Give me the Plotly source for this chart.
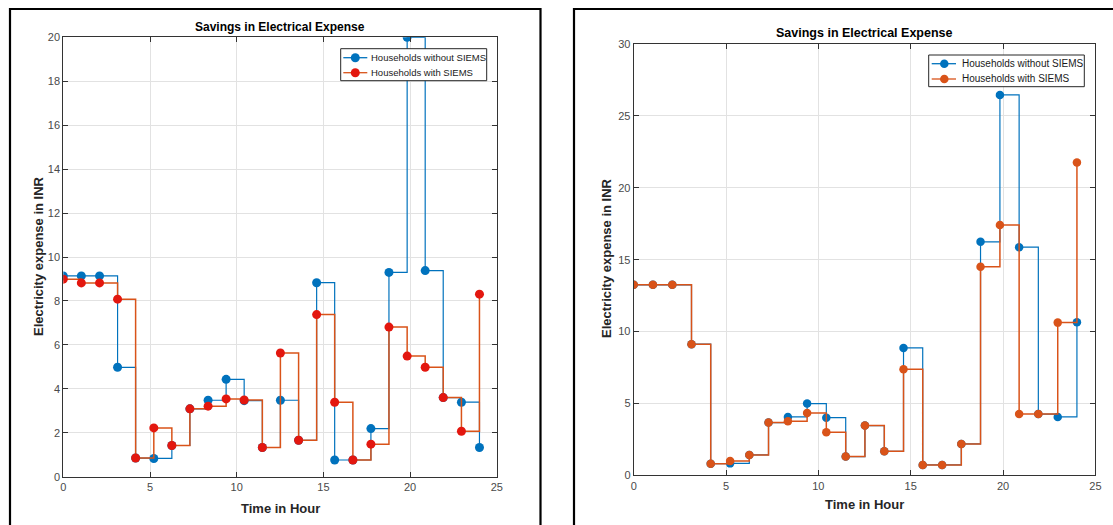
import plotly.graph_objects as go

# Hour of day for each of the 24 billing slots
hours = [0.00, 1.04, 2.09, 3.13, 4.17, 5.22, 6.26, 7.30, 8.35, 9.39, 10.43, 11.48,
         12.52, 13.57, 14.61, 15.65, 16.70, 17.74, 18.78, 19.83, 20.87, 21.91, 22.96, 24.00]

# Case A: expense (INR) per slot
a_without = [9.14, 9.14, 9.14, 4.98, 0.85, 0.83, 1.42, 3.09, 3.48, 4.43, 3.46, 1.33,
             3.48, 1.66, 8.83, 0.76, 0.76, 2.19, 9.30, 20.00, 9.38, 3.60, 3.39, 1.33]
a_with = [8.99, 8.82, 8.82, 8.08, 0.85, 2.22, 1.42, 3.09, 3.21, 3.54, 3.49, 1.33,
          5.63, 1.66, 7.38, 3.39, 0.76, 1.48, 6.81, 5.49, 4.98, 3.60, 2.07, 8.31]

# Case B: expense (INR) per slot
b_without = [13.25, 13.25, 13.25, 9.12, 0.81, 0.83, 1.42, 3.67, 4.06, 4.99, 4.01, 1.30,
             3.46, 1.67, 8.86, 0.72, 0.72, 2.18, 16.24, 26.46, 15.87, 4.26, 4.06, 10.64]
b_with = [13.25, 13.25, 13.25, 9.12, 0.81, 1.00, 1.42, 3.67, 3.76, 4.34, 2.99, 1.30,
          3.46, 1.67, 7.38, 0.72, 0.72, 2.18, 14.50, 17.41, 4.26, 4.26, 10.62, 21.76]

TITLE = "Savings in Electrical Expense"
XLABEL = "Time in Hour"
YLABEL = "Electricity expense in INR"
NAME_WITHOUT = "Households without SIEMS"
NAME_WITH = "Households with SIEMS"

BLUE = "#0072BD"
ORANGE = "#D95319"
RED = "#E3170F"
FONT = "Liberation Sans, Arial, Helvetica, sans-serif"

W, H = 1113, 525


def px_x(p):
    return p / W


def px_y(p):
    return 1 - p / H


fig = go.Figure()

# Left panel traces
fig.add_trace(go.Scatter(x=hours, y=a_without, mode="lines+markers", line_shape="hv",
                         name=NAME_WITHOUT, line=dict(color=BLUE, width=1.2),
                         marker=dict(color=BLUE, size=9), xaxis="x", yaxis="y"))
fig.add_trace(go.Scatter(x=hours, y=a_with, mode="lines+markers", line_shape="hv",
                         name=NAME_WITH, line=dict(color=ORANGE, width=1.5),
                         marker=dict(color=RED, size=9), xaxis="x", yaxis="y"))

# Right panel traces
fig.add_trace(go.Scatter(x=hours, y=b_without, mode="lines+markers", line_shape="hv",
                         name=NAME_WITHOUT, line=dict(color=BLUE, width=1.2),
                         marker=dict(color=BLUE, size=8.5), xaxis="x2", yaxis="y2"))
fig.add_trace(go.Scatter(x=hours, y=b_with, mode="lines+markers", line_shape="hv",
                         name=NAME_WITH, line=dict(color=ORANGE, width=1.5),
                         marker=dict(color=ORANGE, size=8.5), xaxis="x2", yaxis="y2"))

axis_common = dict(
    showline=True, linecolor="#333333", linewidth=1, mirror="ticks",
    ticks="inside", ticklen=5, tickcolor="#333333", tickwidth=1,
    showgrid=True, gridcolor="#e2e2e2", gridwidth=1, zeroline=False,
    tickfont=dict(family=FONT, size=11, color="#4a4a4a"),
    automargin=False, fixedrange=True,
)

left_x = [63.3, 496.8]
left_y = [37.3, 476.7]
right_x = [633.7, 1095.4]
right_y = [44.0, 475.3]

fig.update_layout(
    width=W, height=H,
    margin=dict(l=0, r=0, t=0, b=0, autoexpand=False),
    paper_bgcolor="white", plot_bgcolor="white",
    font=dict(family=FONT, color="#262626"),
    showlegend=False,
    xaxis=dict(domain=[px_x(left_x[0]), px_x(left_x[1])], range=[0, 25],
               tickvals=[0, 5, 10, 15, 20, 25], anchor="y", **axis_common),
    yaxis=dict(domain=[px_y(left_y[1]), px_y(left_y[0])], range=[0, 20],
               tickvals=list(range(0, 21, 2)), anchor="x", **axis_common),
    xaxis2=dict(domain=[px_x(right_x[0]), px_x(right_x[1])], range=[0, 25],
                tickvals=[0, 5, 10, 15, 20, 25], anchor="y2", **axis_common),
    yaxis2=dict(domain=[px_y(right_y[1]), px_y(right_y[0])], range=[0, 30],
                tickvals=[0, 5, 10, 15, 20, 25, 30], anchor="x2", **axis_common),
)

# Panel titles and axis titles
annos = []
for cx, ty, xt_y, yt_x, cy, fs in [
    ((left_x[0] + left_x[1]) / 2, 27, 508, 38, 256, 12),
    ((right_x[0] + right_x[1]) / 2, 33, 504, 606, 258, 12.5),
]:
    annos.append(dict(text=f"<b>{TITLE}</b>", x=px_x(cx), y=px_y(ty), xref="paper",
                      yref="paper", xanchor="center", yanchor="middle", showarrow=False,
                      font=dict(family=FONT, size=fs, color="#000000")))
    annos.append(dict(text=f"<b>{XLABEL}</b>", x=px_x(cx), y=px_y(xt_y), xref="paper",
                      yref="paper", xanchor="center", yanchor="middle", showarrow=False,
                      font=dict(family=FONT, size=13, color="#262626")))
    annos.append(dict(text=f"<b>{YLABEL}</b>", x=px_x(yt_x), y=px_y(cy), xref="paper",
                      yref="paper", xanchor="center", yanchor="middle", showarrow=False,
                      textangle=-90, font=dict(family=FONT, size=13, color="#262626")))

# Compact legend boxes drawn in pixel layout coordinates
legend_specs = [
    dict(box=(340.7, 48.7, 486.7, 80.7), rows=(57.7, 72.7), key=(343.3, 367.3),
         mx=355.3, tx=369.0, fs=9.5, ms=9,
         entries=[(NAME_WITHOUT, BLUE, BLUE), (NAME_WITH, ORANGE, RED)]),
    dict(box=(928.7, 55.0, 1084.3, 86.7), rows=(63.7, 79.0), key=(931.7, 956.0),
         mx=944.3, tx=959.5, fs=10, ms=8.5,
         entries=[(NAME_WITHOUT, BLUE, BLUE), (NAME_WITH, ORANGE, ORANGE)]),
]
for spec in legend_specs:
    bx0, by0, bx1, by1 = spec["box"]
    fig.add_shape(type="rect", xref="paper", yref="paper", layer="above",
                  x0=px_x(bx0), x1=px_x(bx1), y0=px_y(by1), y1=px_y(by0),
                  line=dict(color="#262626", width=1), fillcolor="white")
    for (label, lcol, mcol), ry in zip(spec["entries"], spec["rows"]):
        k0, k1 = spec["key"]
        fig.add_shape(type="line", xref="paper", yref="paper", layer="above",
                      x0=px_x(k0), x1=px_x(k1), y0=px_y(ry), y1=px_y(ry),
                      line=dict(color=lcol, width=1.3))
        r = spec["ms"] / 2
        fig.add_shape(type="circle", xref="paper", yref="paper", layer="above",
                      x0=px_x(spec["mx"] - r), x1=px_x(spec["mx"] + r),
                      y0=px_y(ry + r), y1=px_y(ry - r),
                      line=dict(color=mcol, width=0), fillcolor=mcol)
        annos.append(dict(text=label, x=px_x(spec["tx"]), y=px_y(ry), xref="paper",
                          yref="paper", xanchor="left", yanchor="middle", showarrow=False,
                          font=dict(family=FONT, size=spec["fs"], color="#1a1a1a")))

fig.update_layout(annotations=annos)

# Black frames around each panel
frame = dict(type="path", xref="paper", yref="paper",
             line=dict(color="black", width=2.2), layer="above")
fig.add_shape(path=f"M {px_x(10)} {px_y(540)} L {px_x(10)} {px_y(9)} "
                   f"L {px_x(540.5)} {px_y(9)} L {px_x(540.5)} {px_y(540)}", **frame)
fig.add_shape(path=f"M {px_x(574)} {px_y(540)} L {px_x(574)} {px_y(9)} "
                   f"L {px_x(1125)} {px_y(9)}", **frame)

fig.write_html("out.html", config=dict(displayModeBar=False))
